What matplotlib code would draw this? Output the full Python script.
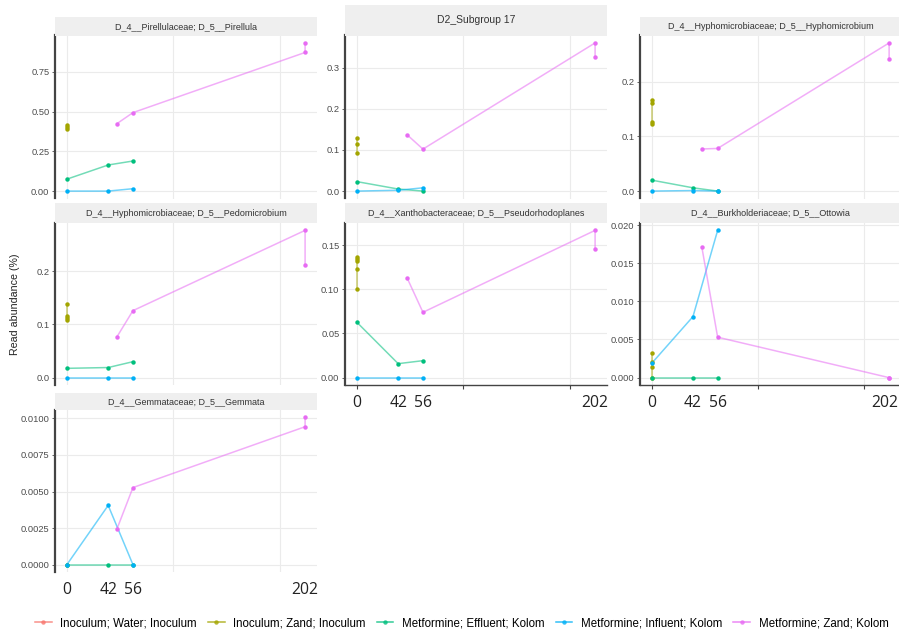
import matplotlib.pyplot as plt
from matplotlib.lines import Line2D

plt.rcParams['font.family'] = ['Liberation Sans', 'DejaVu Sans']

groups = ["Inoculum; Water; Inoculum", "Inoculum; Zand; Inoculum",
          "Metformine; Effluent; Kolom", "Metformine; Influent; Kolom",
          "Metformine; Zand; Kolom"]
colors = ["#F8766D", "#A3A500", "#00BF7D", "#00B0F6", "#E76BF3"]

# positions on the time axis and the day labels written under them
t_run = [0, 35, 56]
t_zand = [42.5, 56, 202, 202]
day_pos = [0, 35, 56, 202]
day_labels = ["0", "42", "56", "202"]
grid_x = [0, 90, 181]

# read abundance (%) per taxon
pir_ino = [0.392, 0.405, 0.418]
pir_eff = [0.075, 0.164, 0.189]
pir_inf = [0.0, 0.0, 0.015]
pir_zand = [0.424, 0.493, 0.871, 0.931]

sub_ino = [0.092, 0.115, 0.130]
sub_eff = [0.023, 0.005, 0.0]
sub_inf = [0.0, 0.002, 0.008]
sub_zand = [0.137, 0.102, 0.360, 0.325]

hyp_ino = [0.123, 0.127, 0.162, 0.166]
hyp_eff = [0.020, 0.006, 0.0]
hyp_inf = [0.0, 0.001, 0.0]
hyp_zand = [0.077, 0.078, 0.271, 0.242]

ped_ino = [0.108, 0.112, 0.116, 0.138]
ped_eff = [0.0175, 0.019, 0.030]
ped_inf = [0.0, 0.0, 0.0]
ped_zand = [0.077, 0.126, 0.277, 0.2125]

pse_ino = [0.100, 0.123, 0.132, 0.134, 0.137]
pse_eff = [0.0626, 0.0158, 0.0192]
pse_inf = [0.0, 0.0, 0.0]
pse_zand = [0.113, 0.0739, 0.1666, 0.146]

ott_ino = [0.0, 0.0014, 0.0020, 0.0032]
ott_eff = [0.0, 0.0, 0.0]
ott_inf = [0.0019, 0.0080, 0.0193]
ott_zand = [0.01715, 0.0053, 0.0, 0.0]

gem_ino = [0.0]
gem_eff = [0.0, 0.0, 0.0]
gem_inf = [0.0, 0.00405, 0.0]
gem_zand = [0.00245, 0.00527, 0.00943, 0.01007]

titles = ["D_4__Pirellulaceae; D_5__Pirellula", "D2_Subgroup 17",
          "D_4__Hyphomicrobiaceae; D_5__Hyphomicrobium",
          "D_4__Hyphomicrobiaceae; D_5__Pedomicrobium",
          "D_4__Xanthobacteraceae; D_5__Pseudorhodoplanes",
          "D_4__Burkholderiaceae; D_5__Ottowia",
          "D_4__Gemmataceae; D_5__Gemmata"]
yticks = [[0, 0.25, 0.5, 0.75], [0, 0.1, 0.2, 0.3], [0, 0.1, 0.2],
          [0, 0.1, 0.2], [0, 0.05, 0.1, 0.15],
          [0, 0.005, 0.01, 0.015, 0.02], [0, 0.0025, 0.005, 0.0075, 0.01]]
yfmt = ["{:.2f}", "{:.1f}", "{:.1f}", "{:.1f}", "{:.2f}", "{:.3f}", "{:.4f}"]
panels = [(pir_ino, pir_eff, pir_inf, pir_zand),
          (sub_ino, sub_eff, sub_inf, sub_zand),
          (hyp_ino, hyp_eff, hyp_inf, hyp_zand),
          (ped_ino, ped_eff, ped_inf, ped_zand),
          (pse_ino, pse_eff, pse_inf, pse_zand),
          (ott_ino, ott_eff, ott_inf, ott_zand),
          (gem_ino, gem_eff, gem_inf, gem_zand)]

W, H = 899, 632
fig = plt.figure(figsize=(W / 100, H / 100), dpi=100)

cols = [(55, 317), (345, 607), (640, 901)]
rows = [(35.5, 198.5), (223, 385), (410, 572)]
strips = [(17, 35.5), (203, 223), (393, 410)]


def box(x0, x1, y0, y1):
    return [x0 / W, 1 - y1 / H, (x1 - x0) / W, (y1 - y0) / H]


for i, (ino, eff, inf, zand) in enumerate(panels):
    r, c = divmod(i, 3)
    x0, x1 = cols[c]
    y0, y1 = rows[r]
    ax = fig.add_axes(box(x0, x1, y0, y1))

    series = [([0] * len(ino), ino), (t_run, eff), (t_run, inf), (t_zand, zand)]
    for (xs, ys), col in zip(series, colors[1:]):
        ax.plot(xs, ys, color=col, lw=1.1, alpha=0.55, zorder=2,
                solid_capstyle='round')
    for (xs, ys), col in zip(series, colors[1:]):
        ax.plot(xs, ys, 'o', color=col, ms=3.2, mec='none', zorder=3)

    ax.margins(0.05)
    ax.set_xlim(-10.1, 212.1)
    ax.set_xticks(grid_x)
    ax.set_xticklabels([])
    ax.set_yticks(yticks[i])
    ax.set_yticklabels([yfmt[i].format(v) for v in yticks[i]])
    ax.tick_params(axis='y', labelsize=6.7, labelcolor='#4D4D4D',
                   color='#4D4D4D', length=2.5, width=0.6, pad=1.5)
    ax.grid(True, color='#EBEBEB', lw=0.8)
    ax.set_axisbelow(True)
    for s in ['top', 'right']:
        ax.spines[s].set_visible(False)
    ax.spines['left'].set_color('#444444')
    ax.spines['left'].set_linewidth(1.6)

    if i in (4, 5):
        ax.spines['bottom'].set_color('#444444')
        ax.spines['bottom'].set_linewidth(1.0)
        ax.tick_params(axis='x', color='#444444', length=3, width=0.8)
    else:
        ax.spines['bottom'].set_visible(False)
        ax.tick_params(axis='x', length=0)

    if i in (4, 5, 6):
        for xp, lab in zip(day_pos, day_labels):
            # the right-hand column runs into the figure edge
            shift = -4 if (i == 5 and lab == "202") else 0
            ax.annotate(lab, (xp, -0.11), xycoords=ax.get_xaxis_transform(),
                        xytext=(shift, 0), textcoords='offset pixels',
                        ha='center', va='center', fontsize=11.3,
                        color='#222222', family=['Open Sans', 'DejaVu Sans'])

    sy0, sy1 = strips[r]
    if i == 1:
        sy0 = 5
    sax = fig.add_axes(box(x0, x1, sy0, sy1))
    sax.set_facecolor('#EFEFEF')
    sax.set_xticks([])
    sax.set_yticks([])
    for s in sax.spines.values():
        s.set_visible(False)
    sax.text(0.5, 0.5, titles[i], ha='center', va='center',
             fontsize=7.5 if i == 1 else 6.5, color='#333333',
             transform=sax.transAxes)

fig.text(15 / W, 1 - 304 / H, "Read abundance (%)", rotation=90,
         ha='center', va='center', fontsize=7.7, color='#222222')

handles = [Line2D([], [], color=c, marker='o', ms=3.2, mec='none', lw=1.1,
                  alpha=0.8) for c in colors]
fig.legend(handles, groups, ncol=5, loc='center left',
           bbox_to_anchor=(35 / W, 1 - 623 / H), frameon=False,
           fontsize=8.3, handlelength=1.45, handletextpad=0.75,
           columnspacing=0.95, borderpad=0, borderaxespad=0)

fig.savefig("out.png", dpi=100)
